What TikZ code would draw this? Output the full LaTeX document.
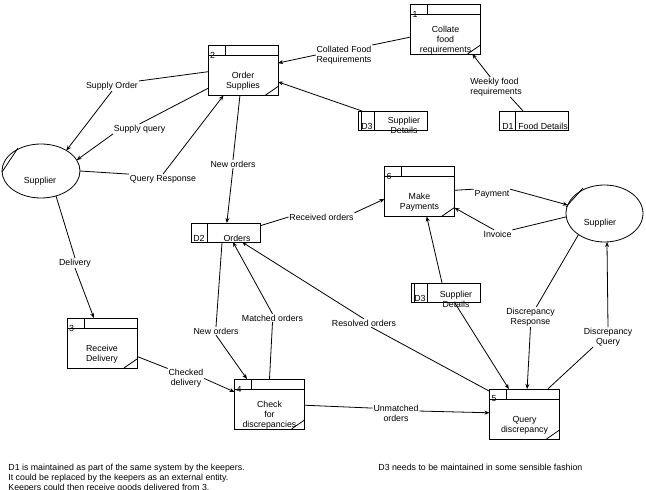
\documentclass[tikz,border=0pt]{standalone}
\usepackage{fontspec}
\setmainfont{Liberation Sans}
\usetikzlibrary{arrows.meta,shapes.geometric}

\tikzset{
  proc/.style={draw, rectangle, minimum width=70pt, minimum height=50pt, inner sep=0pt, outer sep=0pt},
  store/.style={draw, rectangle, minimum width=69pt, minimum height=19pt, inner sep=0pt, outer sep=0pt},
  entity/.style={draw, ellipse, inner sep=0pt, outer sep=0pt},
  txt/.style={font=\fontsize{8.8}{10}\selectfont, inner sep=0.5pt, align=center},
  flow/.style={-{Stealth[length=5pt,width=4pt]}},
}

\newcommand\procbox[4]{%
  \node[proc] (#1) at (#2) {};
  \draw ([yshift=-10pt]#1.north west) -- ([yshift=-10pt]#1.north east);
  \draw ([xshift=17pt]#1.north west) -- ([xshift=17pt,yshift=-10pt]#1.north west);
  \node[txt] (#1n) at ([xshift=4.5pt,yshift=-10pt]#1.north west) {#3};
  \draw ([xshift=-13pt]#1.south east) -- ([yshift=9pt]#1.south east);
  \node[txt] (#1t) at ([yshift=-11pt]#1.center) {#4};
}
\newcommand\storebox[2]{%
  \node[store] (#1) at (#2) {};
  \draw ([xshift=16pt]#1.north west) -- ([xshift=16pt]#1.south west);
}

\begin{document}
\begin{tikzpicture}[x=1pt,y=-1pt,line width=0.8pt]
\useasboundingbox (0,0) rectangle (646,490);

% processes
\procbox{P1}{445.5,29}{1}{Collate\\food\\requirements}
\procbox{P2}{243,70.5}{2}{Order\\Supplies}
\procbox{P3}{102,343}{3}{Receive\\Delivery}
\procbox{P4}{269.5,404}{4}{Check\\for\\discrepancies}
\procbox{P5}{524.5,414}{5}{Query\\discrepancy}
\procbox{P6}{419.5,191.5}{6}{Make\\Payments}

% data stores
\storebox{D1}{534,120.5}
\node[txt] (D1i) at (508,126) {D1};
\node[txt] (D1t) at (543,126) {Food Details};

\storebox{D3a}{393,120.5}
\draw ([xshift=3pt]D3a.north west) -- ([xshift=3pt]D3a.south west);
\node[txt] (D3ai) at (367,126) {D3};
\node[txt] (D3at) at (404,125.5) {Supplier\\Details};

\storebox{D2}{225.5,232.5}
\node[txt] (D2i) at (199,238) {D2};
\node[txt] (D2t) at (237,238) {Orders};

\storebox{D3b}{446,293}
\draw ([xshift=3pt]D3b.north west) -- ([xshift=3pt]D3b.south west);
\node[txt] (D3bi) at (420,298.5) {D3};
\node[txt] (D3bt) at (456,299) {Supplier\\Details};

% external entities
\node[entity, minimum width=78pt, minimum height=54pt] (SL) at (41,171) {};
\node[txt] (SLt) at (40,181.5) {Supplier};
\draw ([xshift=-39pt,yshift=-1pt]SL.center) -- ([xshift=-23pt,yshift=23pt]SL.center);
\node[entity, minimum width=77pt, minimum height=57pt] (SR) at (604.5,213.5) {};
\node[txt] (SRt) at (600,223) {Supplier};
\draw ([xshift=-38.5pt,yshift=6.5pt]SR.center) -- ([xshift=-21.5pt,yshift=25.5pt]SR.center);

% flow labels
\node[txt, align=left] (lCF) at (344,55) {Collated Food\\Requirements};
\node[txt, align=left] (lWF) at (496,87) {Weekly food\\requirements};
\node[txt] (lSO) at (112,86) {Supply Order};
\node[txt] (lSQ) at (139.5,129) {Supply query};
\node[txt] (lQR) at (163,179) {Query Response};
\node[txt] (lNO1) at (233,164) {New orders};
\node[txt] (lRO) at (321.5,217) {Received orders};
\node[txt] (lPay) at (492,194) {Payment};
\node[txt] (lInv) at (497.5,234) {Invoice};
\node[txt] (lDR) at (530.5,317) {Discrepancy\\Response};
\node[txt] (lDQ) at (608,337) {Discrepancy\\Query};
\node[txt] (lRes) at (364,323) {Resolved orders};
\node[txt] (lMO) at (272.5,318) {Matched orders};
\node[txt] (lNO2) at (216,331) {New orders};
\node[txt] (lCD) at (186,378.5) {Checked\\delivery};
\node[txt] (lUM) at (396,413.5) {Unmatched\\orders};
\node[txt] (lDel) at (75,263) {Delivery};

% flows
\draw (P1.193) -- (lCF.north east);
\draw[flow] (lCF.west) -- (P2.12);
\draw (D1.139) -- (lWF.325);
\draw[flow] (lWF.120) -- (P1.317);
\draw[flow] (D3a.163) -- (P2.342);
\draw (P2.182) -- (lSO.north east);
\draw[flow] (lSO.south) -- (SL.39);
\draw (P2.207) -- (lSQ.north);
\draw[flow] (lSQ.south west) -- (SL.17);
\draw (SL.0) -- (lQR.north west);
\draw[flow] (lQR.north) -- (P2.232);
\draw (P2.263) -- (lNO1.north);
\draw[flow] (lNO1.south) -- (D2.82);
\draw (D2.11) -- (lRO.west);
\draw[flow] (lRO.north east) -- (P6.192);
\draw (P6.2) -- (lPay.north west);
\draw[flow] (lPay.north east) -- (SR.167);
\draw (SR.185) -- (lInv.north east);
\draw[flow] (lInv.130) -- (P6.335);
\draw[flow] (D3b.112) -- (P6.286);
\draw (SR.219) -- (lDR.60);
\draw[flow] (lDR.south) -- (P5.84);
\draw (P5.47) -- (lDQ.214);
\draw[flow] (lDQ.north) -- (SR.275);
\draw[flow] (D3b.312) -- (P5.122);
\draw (P5.147) -- (lRes.330);
\draw[flow] (lRes.north) -- (D2.330);
\draw (P4.north) -- (lMO.south);
\draw[flow] (lMO.north) -- (D2.308);
\draw (D2.250) -- (lNO2.north);
\draw[flow] (lNO2.south) -- (P4.132);
\draw (P3.339) -- (lCD.north west);
\draw[flow] (lCD.east) -- (P4.161);
\draw (P4.358) -- (lUM.167);
\draw[flow] (lUM.6) -- (P5.178);
\draw (SL.301) -- (lDel.north);
\draw[flow] (lDel.south) -- (P3.108);

% notes
\node[txt, align=left, anchor=north west] (note1) at (7.5,463) {D1 is maintained as part of the same system by the keepers.\\It could be replaced by the keepers as an external entity.\\Keepers could then receive goods delivered from 3.};
\node[txt, align=left, anchor=north west] (note2) at (377.5,463) {D3 needs to be maintained in some sensible fashion};
\end{tikzpicture}
\end{document}
